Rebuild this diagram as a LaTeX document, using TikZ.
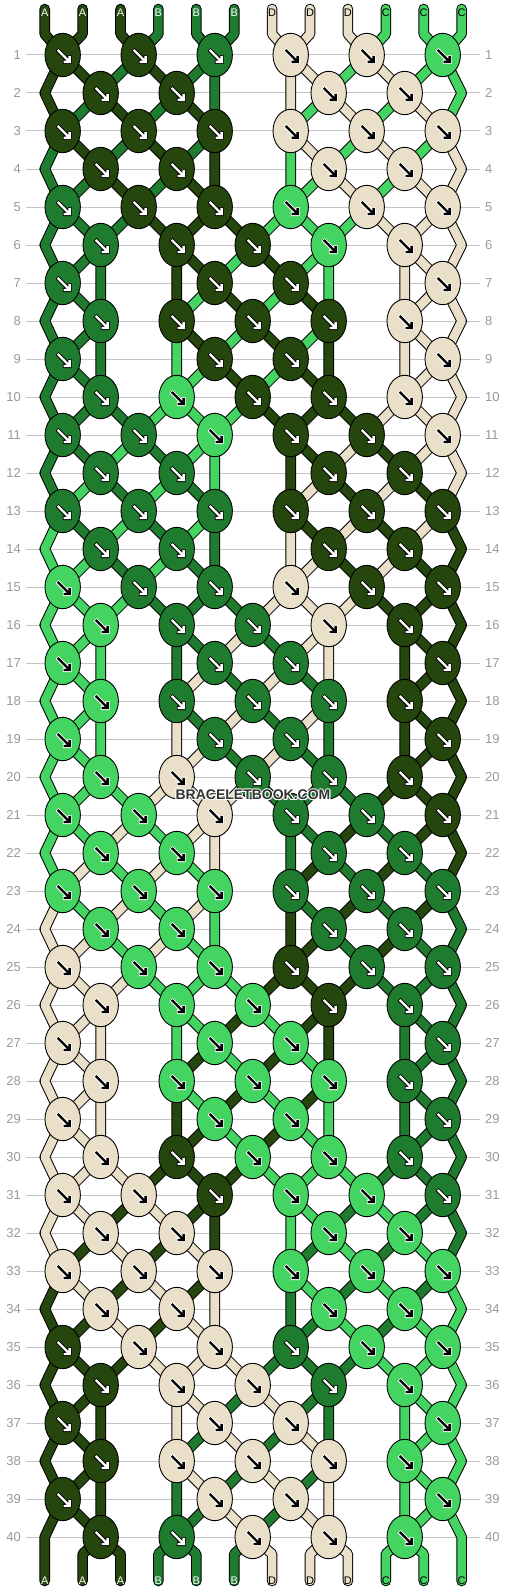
\documentclass[tikz,border=0pt]{standalone}
\usepackage{fontspec}
\setmainfont{Liberation Sans}
\usetikzlibrary{shapes.geometric}
\definecolor{ca}{HTML}{25460C}
\definecolor{cb}{HTML}{1F7C2F}
\definecolor{cc}{HTML}{44D462}
\definecolor{cd}{HTML}{EAE0C9}
\definecolor{gridc}{HTML}{C4C4C4}
\definecolor{labc}{HTML}{9A9A9A}
\definecolor{wmark}{HTML}{333333}
\pgfdeclarelayer{fg}
\pgfdeclarelayer{top}
\pgfsetlayers{main,fg,top}
\newcommand\bbSetAt[2]{\expandafter\xdef\csname bbat#1\endcsname{#2}}
\newcommand\bbAt[1]{\csname bbat#1\endcsname}
\newcommand\bbAddPath[2]{\expandafter\xdef\csname bbpth#1\endcsname{\csname bbpth#1\endcsname #2}}
\newcommand\bbDefCol[3]{\expandafter\def\csname bbcol#1\endcsname{#2}\expandafter\def\csname bbarr#1\endcsname{#3}}
\bbDefCol{1}{ca}{W}\bbDefCol{2}{ca}{W}\bbDefCol{3}{ca}{W}
\bbDefCol{4}{cb}{W}\bbDefCol{5}{cb}{W}\bbDefCol{6}{cb}{W}
\bbDefCol{7}{cd}{K}\bbDefCol{8}{cd}{K}\bbDefCol{9}{cd}{K}
\bbDefCol{10}{cc}{K}\bbDefCol{11}{cc}{K}\bbDefCol{12}{cc}{K}
\newcommand\bbArrow[3]{%
  \if#3W\def\bbfg{white}\def\bbbg{black}\else\def\bbfg{black}\def\bbbg{white}\fi
  \begin{scope}[shift={(#1,#2)}]
    \draw[\bbbg, line width=4.2pt, line cap=butt, line join=miter]
      (-5.6,-5.6) -- (6.2,6.2) (0.2,6.9) -- (6.9,6.9) -- (6.9,0.2);
    \draw[\bbfg, line width=2.3pt, line cap=butt, line join=miter]
      (-5,-5) -- (6.2,6.2) (0.8,6.9) -- (6.9,6.9) -- (6.9,0.8);
  \end{scope}}
\begin{document}
\begin{tikzpicture}[x=1pt,y=-1pt,
  knot/.style={ellipse, draw=black, line width=0.9pt, minimum width=35.4pt, minimum height=43.4pt, inner sep=0pt},
  strand/.style={draw=black, line width=1pt, double distance=8.6pt, line cap=round, line join=round},
  rowlab/.style={text=labc, font=\fontsize{13}{13}\selectfont, inner sep=0pt},
  endlab/.style={font=\fontsize{11}{11}\selectfont, inner sep=0pt},
  wm/.style={font=\bfseries\fontsize{14}{14}\selectfont, inner sep=0pt}]
\fill[white] (0,0) rectangle (506,1592);
\useasboundingbox (0,0) rectangle (506,1592);
% grid lines and row numbers
\foreach \r in {1,...,40}{
  \pgfmathsetmacro\yy{55+38*(\r-1)}
  \draw[gridc, line width=1pt] (26,\yy) -- (480,\yy);
  \node[rowlab, anchor=east] (ll-\r) at (21,\yy) {\r};
  \node[rowlab, anchor=west] (rl-\r) at (485,\yy) {\r};
}
% start and end points of the strings
\foreach \i in {1,...,12}{
  \pgfmathsetmacro\xx{44.7+37.9*(\i-1)}
  \coordinate (T-\i) at (\xx,9);
  \coordinate (U-\i) at (\xx,34);
  \coordinate (Q-\i) at (\xx,1554);
  \coordinate (R-\i) at (\xx,1581);
  \coordinate (TL-\i) at (\xx,13);
  \bbSetAt{\i}{\i}
  \expandafter\xdef\csname bbpth\i\endcsname{(T-\i) -- (U-\i)}
}
% rows
\foreach \r in {1,...,40}{
  \pgfmathtruncatemacro\rt{mod(\r-1,10)}
  \pgfmathtruncatemacro\odd{mod(\r,2)}
  \pgfmathsetmacro\yy{55+38*(\r-1)}
  \foreach \i in {1,...,12}{
    \ifnum\odd=1
      \pgfmathtruncatemacro\kp{2*floor((\i-1)/2)}
      \pgfmathtruncatemacro\miss{(((\rt==6)||(\rt==8))&&((\kp==2)||(\kp==8))) ? 1 : 0}
      \ifnum\miss=1 \pgfmathtruncatemacro\kp{2*floor(\i/2)-1}\fi
      \pgfmathsetmacro\xx{62.7+38*\kp}
    \else
      \ifnum\i=1 \def\xx{44.7}\else
      \ifnum\i=12 \def\xx{461.7}\else
        \pgfmathtruncatemacro\kp{2*floor(\i/2)-1}
        \pgfmathtruncatemacro\miss{(((\rt==1)||(\rt==3))&&(\kp==5)) ? 1 : 0}
        \ifnum\miss=1 \pgfmathtruncatemacro\kp{2*floor((\i-1)/2)}\fi
        \pgfmathsetmacro\xx{62.7+38*\kp}
      \fi\fi
    \fi
    \coordinate (P-\r-\i) at (\xx,\yy);
    \edef\id{\bbAt{\i}}
    \bbAddPath{\id}{ -- (P-\r-\i)}
  }
  \ifnum\odd=1 \def\Llist{1,3,5,7,9,11}\else\def\Llist{2,4,6,8,10}\fi
  \foreach \kL in \Llist {
    \pgfmathtruncatemacro\kp{\kL-1}
    \pgfmathtruncatemacro\miss{((((\rt==6)||(\rt==8))&&((\kp==2)||(\kp==8))) || (((\rt==1)||(\rt==3))&&(\kp==5))) ? 1 : 0}
    \ifnum\miss=0
      \pgfmathtruncatemacro\kLp{\kL+1}
      \edef\ida{\bbAt{\kL}}
      \edef\idb{\bbAt{\kLp}}
      \edef\kc{\csname bbcol\ida\endcsname}
      \edef\ka{\csname bbarr\ida\endcsname}
      \pgfmathsetmacro\xx{62.7+38*\kp}
      \begin{pgfonlayer}{fg}
        \node[knot, fill=\kc] (k-\r-\kp) at (\xx,\yy) {};
        \bbArrow{\xx}{\yy}{\ka}
      \end{pgfonlayer}
      \bbSetAt{\kL}{\idb}
      \bbSetAt{\kLp}{\ida}
    \fi
  }
}
\foreach \i in {1,...,12}{
  \edef\id{\bbAt{\i}}
  \bbAddPath{\id}{ -- (Q-\i) -- (R-\i)}
}
% strings
\foreach \id in {1,...,12}{
  \edef\bbcmd{\noexpand\draw[strand, double=\csname bbcol\id\endcsname] \csname bbpth\id\endcsname;}
  \bbcmd
}
% string letters
\begin{pgfonlayer}{top}
\foreach \i/\lt/\tc in {1/A/white,2/A/white,3/A/white,4/B/white,5/B/white,6/B/white,7/D/black,8/D/black,9/D/black,10/C/black,11/C/black,12/C/black}{
  \node[endlab, text=\tc] (tl-\i) at (TL-\i) {\lt};
  \node[endlab, text=\tc] (bl-\i) at (R-\i) {\lt};
}
\foreach \dx/\dy in {-1/0,1/0,0/-1,0/1,-0.8/-0.8,0.8/0.8,-0.8/0.8,0.8/-0.8}{
  \node[wm, text=white] at (253+\dx,795+\dy) {BRACELETBOOK.COM};
}
\node[wm, text=wmark] (wmk) at (253,795) {BRACELETBOOK.COM};
\end{pgfonlayer}
\end{tikzpicture}
\end{document}
